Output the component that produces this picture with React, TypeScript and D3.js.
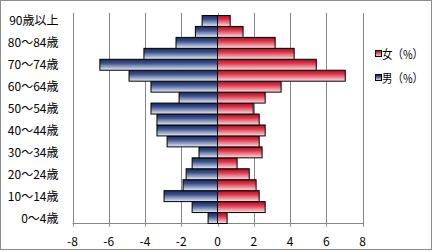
import React from "react";
import * as d3 from "d3";

const ageGroups = [
  "0～4歳", "5～9歳", "10～14歳", "15～19歳", "20～24歳", "25～29歳", "30～34歳",
  "35～39歳", "40～44歳", "45～49歳", "50～54歳", "55～59歳", "60～64歳", "65～69歳",
  "70～74歳", "75～79歳", "80～84歳", "85～89歳", "90歳以上",
];
const maleValues = [
  -0.52, -1.40, -2.95, -1.90, -1.73, -1.40, -1.02, -2.78, -3.34, -3.34,
  -3.67, -2.12, -3.67, -4.88, -6.49, -4.06, -2.29, -1.22, -0.85,
];
const femaleValues = [
  0.53, 2.63, 2.30, 2.13, 1.75, 1.08, 2.46, 2.30, 2.63, 2.30,
  1.97, 2.63, 3.51, 7.05, 5.45, 4.23, 3.18, 1.41, 0.70,
];
const xTicks = [-8, -6, -4, -2, 0, 2, 4, 6, 8];
const legendLabels = ["女（%）", "男（%）"];

const W = 433;
const H = 252;
const FONT = "'Noto Sans CJK JP', 'Noto Sans', sans-serif";

export default function App() {
  const x = d3.scaleLinear().domain([-8, 8]).range([72.5, 362.5]);
  const y = d3
    .scaleBand<string>()
    .domain([...ageGroups].reverse())
    .range([15.5, 223.5])
    .paddingInner(0)
    .paddingOuter(0);
  const plotTop = 13;
  const axisY = 223.5;

  return (
    <svg
      width={W}
      height={H}
      style={{ position: "absolute", left: 0, top: 0, background: "#fff" }}
      fontFamily={FONT}
    >
      <defs>
        <linearGradient id="gBlue" x1="0" y1="0" x2="0" y2="1">
          <stop offset="0" stopColor="#14296a" />
          <stop offset="0.35" stopColor="#3c5189" />
          <stop offset="1" stopColor="#e9edf5" />
        </linearGradient>
        <linearGradient id="gRed" x1="0" y1="0" x2="0" y2="1">
          <stop offset="0" stopColor="#c4001a" />
          <stop offset="0.35" stopColor="#d6384a" />
          <stop offset="1" stopColor="#f6e3e6" />
        </linearGradient>
      </defs>
      <rect x={0.5} y={0.5} width={431} height={249} fill="#fff" stroke="#8c8c8c" />

      {xTicks.map((t) => (
        <g key={t}>
          <line
            x1={Math.round(x(t)) + 0.5}
            x2={Math.round(x(t)) + 0.5}
            y1={plotTop}
            y2={axisY + 3}
            stroke="#868686"
          />
          <text x={x(t)} y={245.5} textAnchor="middle" fontSize={12} fill="#000">
            {t}
          </text>
        </g>
      ))}
      <line x1={x(-8)} x2={x(8) + 1} y1={axisY} y2={axisY} stroke="#868686" />

      {ageGroups.map((g, i) => (
        <g key={g}>
          <rect
            x={x(maleValues[i])}
            y={y(g)!}
            width={x(0) - x(maleValues[i])}
            height={y.bandwidth()}
            fill="url(#gBlue)"
            stroke="#000"
            strokeWidth={1}
          />
          <rect
            x={x(0)}
            y={y(g)!}
            width={x(femaleValues[i]) - x(0)}
            height={y.bandwidth()}
            fill="url(#gRed)"
            stroke="#000"
            strokeWidth={1}
          />
        </g>
      ))}

      {ageGroups.map((g, i) =>
        i % 2 === 0 ? (
          <text
            key={"l" + g}
            x={58.5}
            y={y(g)! + y.bandwidth() / 2 + 4.5}
            textAnchor="end"
            fontSize={12}
            fill="#000"
          >
            {g}
          </text>
        ) : null
      )}

      {legendLabels.map((l, i) => (
        <g key={l}>
          <rect
            x={375.5}
            y={50.5 + i * 24}
            width={6}
            height={6}
            fill={i === 0 ? "url(#gRed)" : "url(#gBlue)"}
            stroke="#000"
          />
          <text
            x={382}
            y={58.5 + i * 24}
            fontSize={12}
            fill="#000"
            textLength={41}
            lengthAdjust="spacingAndGlyphs"
          >
            {l}
          </text>
        </g>
      ))}
    </svg>
  );
}
